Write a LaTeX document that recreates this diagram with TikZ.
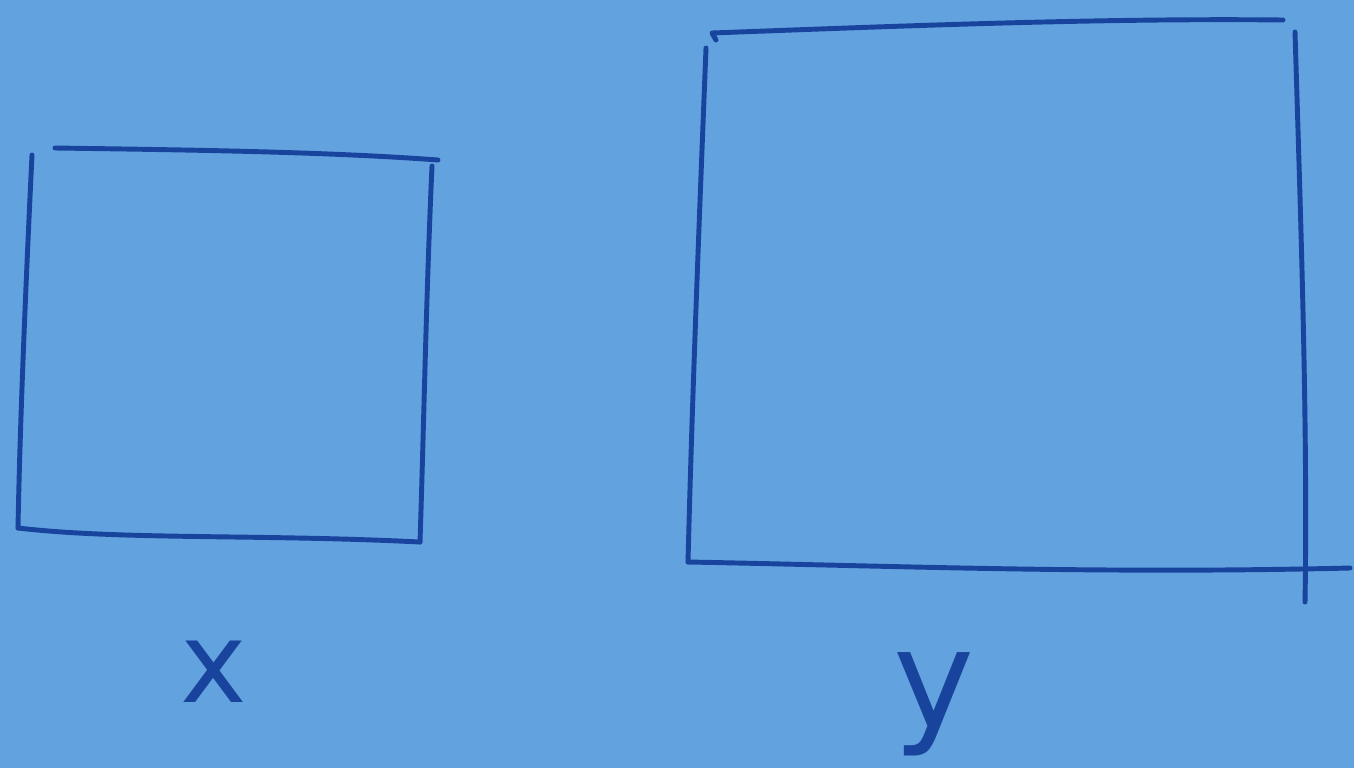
\documentclass[tikz,border=0pt]{standalone}
\usepackage{fontspec}
\setmainfont{DejaVu Sans}
\definecolor{bg}{RGB}{98,162,222}
\definecolor{pen}{RGB}{25,68,158}
\tikzset{stroke/.style={draw=pen,line width=2.8pt,line cap=round,line join=round},
  lbl/.style={text=pen,inner sep=0pt}}
\begin{document}
\begin{tikzpicture}[x=0.02cm,y=-0.02cm]
\fill[bg] (0,0) rectangle (1354,768);
\useasboundingbox (0,0) rectangle (1354,768);
% left square
\draw[stroke] (55,148) .. controls (200,150) and (330,152) .. (438,160);
\draw[stroke] (32,155) .. controls (26,280) and (20,420) .. (18,528);
\draw[stroke] (18,528) .. controls (120,540) and (260,534) .. (420,542);
\draw[stroke] (432,166) .. controls (426,300) and (424,420) .. (420,542);
% right square
\draw[stroke] (716,40) -- (712,33) .. controls (900,26) and (1100,18) .. (1283,20);
\draw[stroke] (706,48) .. controls (700,200) and (692,400) .. (688,562);
\draw[stroke] (688,562) .. controls (900,566) and (1100,574) .. (1350,568);
\draw[stroke] (1295,32) .. controls (1300,200) and (1308,420) .. (1305,602);
% labels
\node[lbl,font=\fontsize{64}{70}\selectfont] (lx) at (214,672) {x};
\node[lbl,font=\fontsize{78}{88}\selectfont] (ly) at (934,704) {y};
\end{tikzpicture}
\end{document}
